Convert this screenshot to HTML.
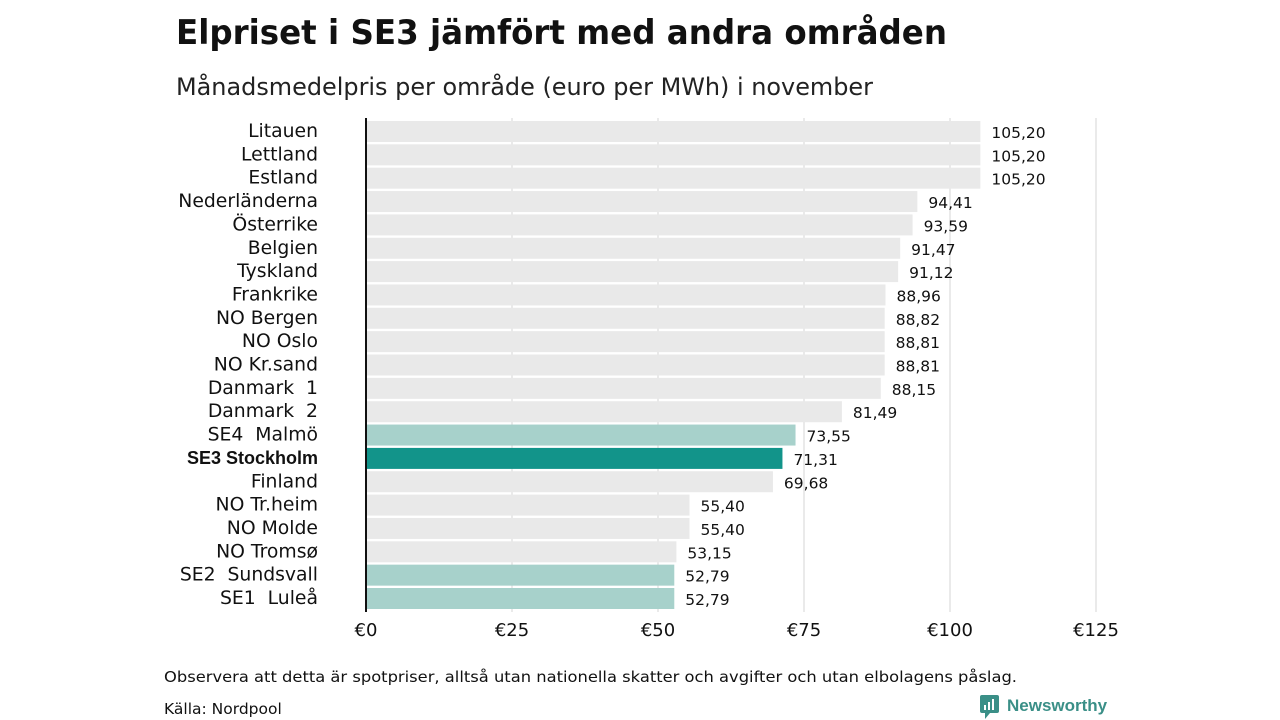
<!DOCTYPE html>
<html><head><meta charset="utf-8">
<style>
body{margin:0;background:#fff;width:1280px;height:720px;overflow:hidden;font-family:"DejaVu Sans","Liberation Sans",sans-serif;}
svg{position:absolute;left:0;top:0}
</style></head>
<body>
<svg id="c" width="1280" height="720" xmlns="http://www.w3.org/2000/svg">
<text x="176" y="44" font-size="34" font-weight="bold" fill="#111" font-family="DejaVu Sans, Liberation Sans, sans-serif" textLength="771" lengthAdjust="spacingAndGlyphs">Elpriset i SE3 jämfört med andra områden</text>
<text x="176" y="95" font-size="24" fill="#222" textLength="697" lengthAdjust="spacingAndGlyphs">Månadsmedelpris per område (euro per MWh) i november</text>
<g id="grid"></g><g id="bars"></g><g id="labels"></g><g id="vals"></g><g id="ticks"></g>
<line x1="366" y1="118" x2="366" y2="612" stroke="#111" stroke-width="2"/>
<text x="164" y="682" font-size="15.5" fill="#111" textLength="853" lengthAdjust="spacingAndGlyphs">Observera att detta är spotpriser, alltså utan nationella skatter och avgifter och utan elbolagens påslag.</text>
<text x="164" y="714" font-size="15.5" fill="#111">Källa: Nordpool</text>
<g>
<rect x="980" y="695" width="19" height="18" rx="2" fill="#3a8f87"/>
<polygon points="985,713 990,713 985,719" fill="#3a8f87"/>
<rect x="984" y="705" width="2" height="5" fill="#fff"/><rect x="988" y="702" width="2" height="8" fill="#fff"/><rect x="992" y="699" width="2" height="11" fill="#fff"/>
<text x="1007" y="711" font-size="17" font-weight="bold" fill="#3a8f87" font-family="Liberation Sans, sans-serif">Newsworthy</text>
</g>
</svg>
<script>
const categories=["Litauen","Lettland","Estland","Nederländerna","Österrike","Belgien","Tyskland","Frankrike","NO Bergen","NO Oslo","NO Kr.sand","Danmark  1","Danmark  2","SE4  Malmö","SE3 Stockholm","Finland","NO Tr.heim","NO Molde","NO Tromsø","SE2  Sundsvall","SE1  Luleå"];
const values=[105.20,105.20,105.20,94.41,93.59,91.47,91.12,88.96,88.82,88.81,88.81,88.15,81.49,73.55,71.31,69.68,55.40,55.40,53.15,52.79,52.79];
const highlight=["","","","","","","","","","","","","","light","main","","","","","light","light"];
const ticks=[0,25,50,75,100,125];
const NS="http://www.w3.org/2000/svg";
const x=v=>366+v*5.84;
const y=i=>121+i*23.35;
function mk(tag,attrs,parent){const e=document.createElementNS(NS,tag);for(const k in attrs)e.setAttribute(k,attrs[k]);document.getElementById(parent).appendChild(e);return e;}
ticks.forEach(t=>{
 if(t>0){const g=mk("line",{x1:x(t),x2:x(t),y1:118,y2:612,stroke:"#d4d4d4","stroke-width":1},"grid");
 
 }
 const tx=mk("text",{x:x(t),y:636,"font-size":18,"text-anchor":"middle",fill:"#111"},"ticks");
 tx.textContent="€"+t;
 
 
});
categories.forEach((c,i)=>{
 const col=highlight[i]==="main"?"#12948a":highlight[i]==="light"?"#a7d1cb":"#e9e9e9";
 const b=mk("rect",{x:366,y:y(i),width:x(values[i])-366,height:21,fill:col},"bars");
 
 
 const bold=highlight[i]==="main";
 const l=mk("text",{x:318,y:y(i)+16,"font-size":bold?18:18.8,"text-anchor":"end",fill:"#111","font-weight":bold?"bold":"normal","font-family":bold?"Liberation Sans, sans-serif":"DejaVu Sans, sans-serif"},"labels");
 l.style.whiteSpace="pre";
 l.textContent=c;
 
 
 const v=mk("text",{x:x(values[i])+11,y:y(i)+17,"font-size":15.5,fill:"#111"},"vals");
 v.textContent=values[i].toFixed(2).replace(".",",");
 
 
});
</script>
</body></html>
